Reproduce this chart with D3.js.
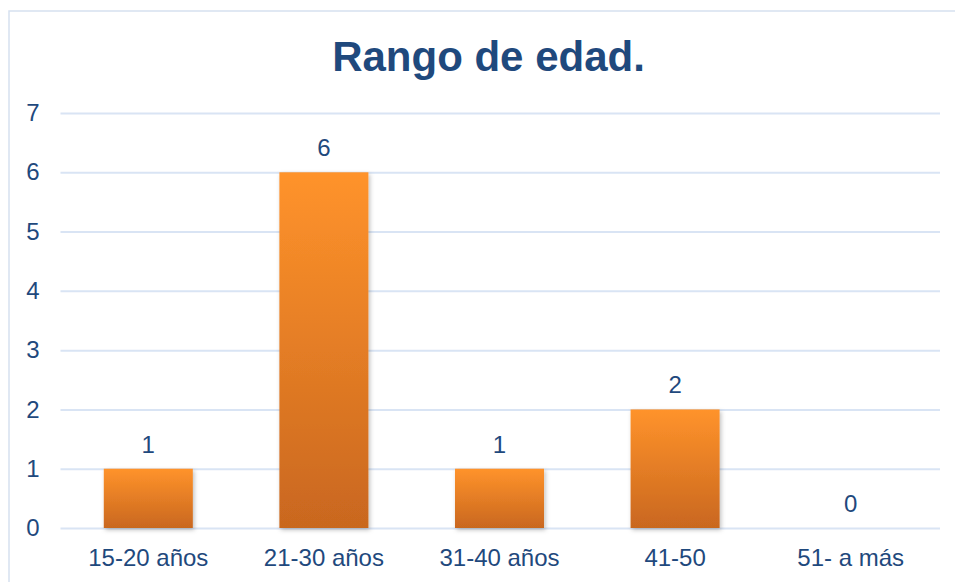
<!DOCTYPE html>
<html>
<head>
<meta charset="utf-8">
<script src="https://cdn.jsdelivr.net/npm/d3@7"></script>
<style>
  body { margin: 0; background: #fff; }
  text { font-family: "Liberation Sans", Arial, sans-serif; fill: #1f497d; }
</style>
</head>
<body>
<div id="chart"></div>
<script>
var categories = ["15-20 años", "21-30 años", "31-40 años", "41-50", "51- a más"];
var values = [1, 6, 1, 2, 0];
var yTicks = [0, 1, 2, 3, 4, 5, 6, 7];

var svgWidth = 955;
var svgHeight = 582;

var margin = { top: 113, right: 16, bottom: 54, left: 60.5 };
var width = 938.5 - margin.left;
var height = 528 - margin.top;

var svg = d3.select("#chart")
  .append("svg")
  .attr("width", svgWidth)
  .attr("height", svgHeight);

var defs = svg.append("defs");

var grad = defs.append("linearGradient")
  .attr("id", "barGrad")
  .attr("x1", 0).attr("y1", 0)
  .attr("x2", 0).attr("y2", 1);
grad.append("stop").attr("offset", "0%").attr("stop-color", "#ff932b");
grad.append("stop").attr("offset", "100%").attr("stop-color", "#c9671f");

var shadow = defs.append("filter")
  .attr("id", "barShadow")
  .attr("x", "-20%").attr("y", "-20%")
  .attr("width", "140%").attr("height", "140%");
shadow.append("feDropShadow")
  .attr("dx", 1.5).attr("dy", 2)
  .attr("stdDeviation", 2)
  .attr("flood-color", "#000")
  .attr("flood-opacity", 0.25);

// chart frame
svg.append("rect")
  .attr("x", 9)
  .attr("y", 11)
  .attr("width", svgWidth)
  .attr("height", svgHeight)
  .attr("fill", "none")
  .attr("stroke", "#d6e1f0")
  .attr("stroke-width", 1.5);

svg.append("text")
  .attr("x", 488.5)
  .attr("y", 71)
  .attr("text-anchor", "middle")
  .attr("font-size", "42px")
  .attr("font-weight", "bold")
  .text("Rango de edad.");

var chartGroup = svg.append("g")
  .attr("transform", `translate(${margin.left}, ${margin.top})`);

var xScale = d3.scaleBand()
  .domain(categories)
  .range([0, width])
  .paddingInner(0.493)
  .paddingOuter(0.2465);

var yScale = d3.scaleLinear()
  .domain([0, 7])
  .range([height, 0]);

var leftAxis = d3.axisLeft(yScale)
  .tickValues(yTicks)
  .tickSize(-(width + 1.5))
  .tickPadding(21)
  .tickFormat(d3.format("d"));

var yAxis = chartGroup.append("g")
  .call(leftAxis);
yAxis.select(".domain").remove();
yAxis.selectAll("line")
  .attr("stroke", "#d9e4f4")
  .attr("stroke-width", 2);
yAxis.selectAll("text")
  .attr("font-size", "24px")
  .attr("fill", "#1f497d");
yAxis.attr("font-family", null);

var bottomAxis = d3.axisBottom(xScale)
  .tickSize(0)
  .tickPadding(21);

var xAxis = chartGroup.append("g")
  .attr("transform", `translate(0, ${height})`)
  .call(bottomAxis);
xAxis.select(".domain").remove();
xAxis.selectAll("text")
  .attr("font-size", "24px")
  .attr("fill", "#1f497d");
xAxis.attr("font-family", null);

chartGroup.selectAll(".bar")
  .data(values)
  .enter()
  .append("rect")
  .attr("class", "bar")
  .attr("x", (d, i) => xScale(categories[i]))
  .attr("y", d => yScale(d))
  .attr("width", xScale.bandwidth())
  .attr("height", d => height - yScale(d))
  .attr("fill", "url(#barGrad)")
  .attr("filter", "url(#barShadow)");

chartGroup.selectAll(".valueLabel")
  .data(values)
  .enter()
  .append("text")
  .attr("class", "valueLabel")
  .attr("x", (d, i) => xScale(categories[i]) + xScale.bandwidth() / 2)
  .attr("y", d => yScale(d) - 16)
  .attr("text-anchor", "middle")
  .attr("font-size", "24px")
  .text(d => d);
</script>
</body>
</html>
